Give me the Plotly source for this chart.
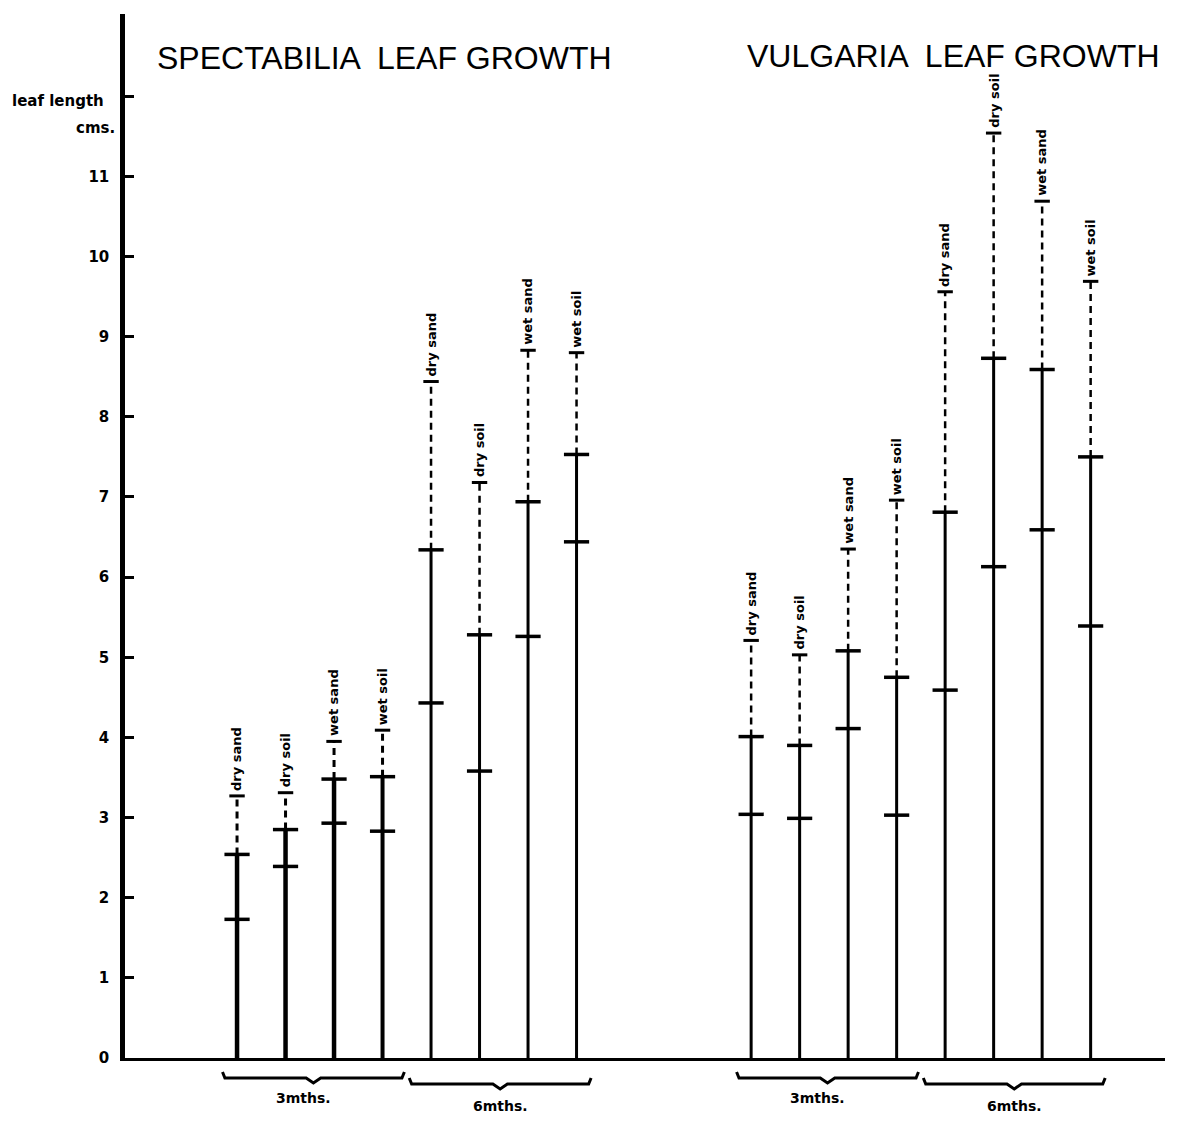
import plotly.graph_objects as go

# ---------------- data (cm) ----------------
conditions = ["dry sand", "dry soil", "wet sand", "wet soil"]
periods = ["3mths.", "6mths."]
titles = ["SPECTABILIA  LEAF GROWTH", "VULGARIA  LEAF GROWTH"]

# 8 bars per species: 3 mths (dry sand, dry soil, wet sand, wet soil), then 6 mths
spect_lower = [1.73, 2.39, 2.93, 2.83, 4.43, 3.58, 5.26, 6.44]
spect_solid = [2.54, 2.85, 3.48, 3.51, 6.34, 5.28, 6.94, 7.53]
spect_dashed = [3.27, 3.31, 3.95, 4.09, 8.44, 7.18, 8.83, 8.80]

vulg_lower = [3.04, 2.99, 4.11, 3.03, 4.59, 6.13, 6.59, 5.39]
vulg_solid = [4.01, 3.90, 5.08, 4.75, 6.81, 8.73, 8.59, 7.50]
vulg_dashed = [5.21, 5.03, 6.35, 6.96, 9.56, 11.54, 10.69, 9.69]

y_tick_vals = list(range(13))
y_tick_text = [str(v) for v in range(12)] + [""]
y_axis_title = ["leaf length", "cms."]

# ---------------- layout constants ----------------
OFF = 8                      # default page body margin
W, H = 1175, 1120
ML, MR, MT, MB = 117, 18, 6, 70
PLOT_W = W - ML - MR
PLOT_H = H - MT - MB
PX_PER_BAR = 48.5
X_MIN = -2.31
X_MAX = X_MIN + PLOT_W / PX_PER_BAR
Y_MAX = PLOT_H / 80.15
GROUP_OFFSETS = [0.0, 10.6]


def sx(px):
    """screen x pixel -> paper x"""
    return (px - OFF - ML) / PLOT_W


def sy(py):
    """screen y pixel -> paper y"""
    return (H - MB - (py - OFF)) / PLOT_H


def below(dy):
    return -dy / PLOT_H


groups = [
    dict(title=titles[0], lower=spect_lower, solid=spect_solid, dashed=spect_dashed,
         offset=GROUP_OFFSETS[0], widths=[4.5, 4.5, 4.5, 4, 3, 3, 3, 3]),
    dict(title=titles[1], lower=vulg_lower, solid=vulg_solid, dashed=vulg_dashed,
         offset=GROUP_OFFSETS[1], widths=[3, 3, 3, 3, 3, 3, 3, 3]),
]

fig = go.Figure()
annotations = []
shapes = []
label_font = dict(family="DejaVu Sans", size=13, color="black", weight="bold")

for g in groups:
    n = len(g["solid"])
    xs = [g["offset"] + i for i in range(n)]
    for i in range(n):
        x = xs[i]
        lw = g["widths"][i]
        fig.add_trace(go.Scatter(x=[x, x], y=[0, g["solid"][i]], mode="lines",
                                 line=dict(color="black", width=lw),
                                 hoverinfo="skip", showlegend=False))
        fig.add_trace(go.Scatter(x=[x, x], y=[g["solid"][i], g["dashed"][i]], mode="lines",
                                 line=dict(color="black", width=min(lw, 3.5) - 0.5,
                                           dash="7px,5px"),
                                 hoverinfo="skip", showlegend=False))
    fig.add_trace(go.Scatter(x=xs + xs, y=g["lower"] + g["solid"], mode="markers",
                             marker=dict(symbol="line-ew", size=18,
                                         line=dict(color="black", width=3.5)),
                             hoverinfo="skip", showlegend=False))
    fig.add_trace(go.Scatter(x=xs, y=g["dashed"], mode="markers",
                             marker=dict(symbol="line-ew", size=11,
                                         line=dict(color="black", width=3)),
                             hoverinfo="skip", showlegend=False))
    for i in range(n):
        annotations.append(dict(x=xs[i], y=g["dashed"][i], xref="x", yref="y",
                                text=conditions[i % 4], textangle=-90, showarrow=False,
                                xanchor="center", yanchor="bottom", yshift=3,
                                font=label_font))
    mid = (xs[3] + xs[4]) / 2
    spans = [(xs[0] - 0.3, mid - 0.05), (mid + 0.05, xs[7] + 0.3)]
    for k, (a, b) in enumerate(spans):
        yb = below(20 + 6 * k)
        yup = below(14 + 6 * k)
        ydip = below(25 + 6 * k)
        c = (a + b) / 2
        path = (f"M {a},{yup} L {a + 0.05},{yb} L {c - 0.15},{yb} L {c},{ydip} "
                f"L {c + 0.15},{yb} L {b - 0.05},{yb} L {b},{yup}")
        shapes.append(dict(type="path", path=path, xref="x", yref="paper",
                           line=dict(color="black", width=3)))
        annotations.append(dict(x=c - 0.2 + 0.2 * k, y=below(40 + 8 * k), xref="x",
                                yref="paper", text=periods[k], showarrow=False,
                                xanchor="center", yanchor="middle",
                                font=dict(family="DejaVu Sans", size=14, color="black",
                                          weight="bold")))

title_font = dict(family="Liberation Sans", size=32, color="black")
annotations.append(dict(x=sx(155), y=sy(58), xref="paper", yref="paper",
                        text=groups[0]["title"], showarrow=False,
                        xanchor="left", yanchor="middle", font=title_font))
annotations.append(dict(x=sx(745), y=sy(56), xref="paper", yref="paper",
                        text=groups[1]["title"], showarrow=False,
                        xanchor="left", yanchor="middle", font=title_font))
annotations.append(dict(x=sx(10), y=sy(101), xref="paper", yref="paper",
                        text=y_axis_title[0], showarrow=False,
                        xanchor="left", yanchor="middle",
                        font=dict(family="DejaVu Sans", size=15, color="black",
                                  weight="bold")))
annotations.append(dict(x=sx(117), y=sy(128), xref="paper", yref="paper",
                        text=y_axis_title[1], showarrow=False,
                        xanchor="right", yanchor="middle",
                        font=dict(family="DejaVu Sans", size=15, color="black",
                                  weight="bold")))

fig.update_layout(
    width=W, height=H,
    margin=dict(l=ML, r=MR, t=MT, b=MB, pad=0),
    paper_bgcolor="white", plot_bgcolor="white",
    showlegend=False,
    annotations=annotations,
    shapes=shapes,
    xaxis=dict(range=[X_MIN, X_MAX], showgrid=False, zeroline=False,
               showticklabels=False, ticks="", showline=True,
               linecolor="black", linewidth=2.5, fixedrange=True),
    yaxis=dict(range=[0, Y_MAX], showgrid=False, zeroline=False,
               tickmode="array", tickvals=y_tick_vals, ticktext=y_tick_text,
               ticks="inside", ticklen=9, tickwidth=3, tickcolor="black",
               showline=True, linecolor="black", linewidth=4.5,
               tickfont=dict(family="DejaVu Sans", size=15, color="black",
                             weight="bold"),
               ticklabelstandoff=8, fixedrange=True),
)

fig.write_html("out.html")
